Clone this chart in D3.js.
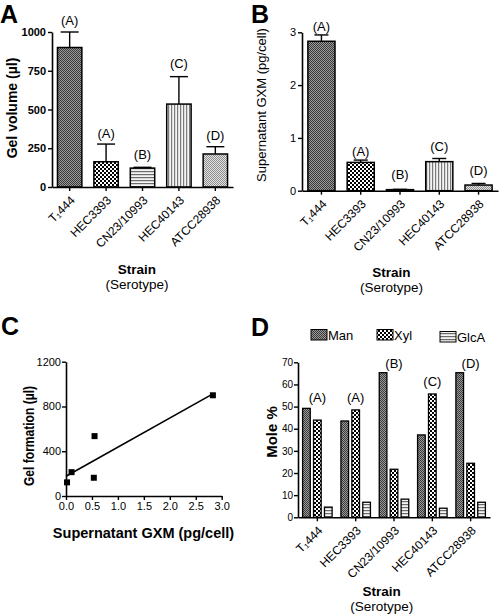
<!DOCTYPE html>
<html><head><meta charset="utf-8">
<script src="https://cdn.jsdelivr.net/npm/d3@7"></script>
<style>
body{margin:0;background:#fff}
svg{display:block}
text{font-family:"Liberation Sans",Arial,Helvetica,sans-serif;fill:#000}
</style>
</head><body>
<svg id="chart" width="500" height="614"></svg>
<script>
// ---------- data ----------
const strains = ["T₁444","HEC3393","CN23/10993","HEC40143","ATCC28938"];
const gelVolume = [900,163,122,535,213];
const gelVolumeErr = [100,114,5,177,47];
const gelLetters = ["(A)","(A)","(B)","(C)","(D)"];
const gelLetterLevel = [1048,319,181,765,303];
const gxm = [2.83,0.536,0.02,0.55,0.107];
const gxmErr = [0.12,0.044,0.006,0.06,0.03];
const gxmLetters = ["(A)","(A)","(B)","(C)","(D)"];
const gxmLetterLevel = [3.03,0.655,0.23,0.75,0.3];
const sugars = ["Man","Xyl","GlcA"];
const man = [49.2,43.5,65.3,37.2,65.3];
const xyl = [43.9,48.5,21.7,55.7,24.4];
const glca = [4.6,6.8,8.2,4.1,6.8];
const moleLetters = ["(A)","(A)","(B)","(C)","(D)"];
const moleLetterLevel = [52.1,52.1,67.5,59.4,67.5];
const ticksA = [0,250,500,750,1000];
const ticksB = [0,1,2,3];
const ticksCy = [0,400,800,1200];
const ticksCx = [0,0.5,1.0,1.5,2.0,2.5,3.0];
const ticksD = [0,10,20,30,40,50,60,70];

const svg = d3.select("#chart");
const defs = svg.append("defs");
function checker(id, a, b, s){
  const p = defs.append("pattern").attr("id",id).attr("patternUnits","userSpaceOnUse").attr("width",2*s).attr("height",2*s);
  p.append("rect").attr("width",2*s).attr("height",2*s).attr("fill",b);
  p.append("rect").attr("width",s).attr("height",s).attr("fill",a);
  p.append("rect").attr("x",s).attr("y",s).attr("width",s).attr("height",s).attr("fill",a);
}
function stripes(id, vertical, col){
  const p = defs.append("pattern").attr("id",id).attr("patternUnits","userSpaceOnUse").attr("width",3).attr("height",3);
  p.append("rect").attr("width",3).attr("height",3).attr("fill","#f4f4f4");
  if(vertical) p.append("rect").attr("width",1.2).attr("height",3).attr("fill",col);
  else p.append("rect").attr("width",3).attr("height",1.2).attr("fill",col);
}
checker("pDark","#3a3a3a","#9a9a9a",1);
checker("pCheck","#000","#fff",2);
stripes("pH",false,"#6a6a6a");
stripes("pV",true,"#7a7a7a");
checker("pLight","#8c8c8c","#e4e4e4",1);
const strainFill = ["url(#pDark)","url(#pCheck)","url(#pH)","url(#pV)","url(#pLight)"];
const sugarFill = ["url(#pDark)","url(#pCheck)","url(#pH)"];
const fmtInt = d3.format("d");

function styleAxis(g, fs, bold){
  g.select(".domain").attr("stroke","#000").attr("stroke-width",1.6);
  g.selectAll(".tick line").attr("stroke","#000").attr("stroke-width",1.4);
  g.selectAll(".tick text").attr("font-size",fs).attr("font-weight",bold?"bold":"normal")
    .attr("font-family",'"Liberation Sans",Arial,sans-serif').attr("fill","#000");
}
function rotLabels(g){
  g.selectAll(".tick text").attr("x",0).attr("y",0).attr("dy","0.35em")
    .attr("text-anchor","end").attr("transform","translate(3,11) rotate(-45)").attr("font-size",12);
}
function strainTitle(cx, y){
  svg.append("text").attr("x",cx).attr("y",y).attr("text-anchor","middle").attr("font-size",13.5).attr("font-weight","bold").text("Strain");
  svg.append("text").attr("x",cx).attr("y",y+15).attr("text-anchor","middle").attr("font-size",13.5).text("(Serotype)");
}
function panelLetter(t,x,y){
  svg.append("text").attr("x",x).attr("y",y).attr("font-size",25).attr("font-weight","bold").text(t);
}

function barPanel(o){
  const x = d3.scaleBand().domain(strains).range(o.xr).paddingInner(o.pi).paddingOuter(0.15);
  const y = d3.scaleLinear().domain(o.yd).range(o.yr);
  const bw = x.bandwidth();
  svg.append("g").selectAll("rect").data(strains).join("rect")
    .attr("x",d=>x(d)).attr("width",bw)
    .attr("y",(d,i)=>y(o.vals[i])).attr("height",(d,i)=>y(0)-y(o.vals[i]))
    .attr("fill",(d,i)=>strainFill[i]).attr("stroke","#000").attr("stroke-width",1.5);
  const eg = svg.append("g").attr("stroke","#000").attr("stroke-width",1.4);
  strains.forEach((s,i)=>{
    const cx = x(s)+bw/2, y0 = y(o.vals[i]), y1 = y(o.vals[i]+o.errs[i]);
    eg.append("line").attr("x1",cx).attr("x2",cx).attr("y1",y0).attr("y2",y1);
    eg.append("line").attr("x1",cx-o.cap/2).attr("x2",cx+o.cap/2).attr("y1",y1).attr("y2",y1);
    svg.append("text").attr("x",cx).attr("y",y(o.lvl[i])).attr("text-anchor","middle").attr("font-size",13).text(o.letters[i]);
  });
  const ya = svg.append("g").attr("transform",`translate(${o.xr[0]},0)`)
    .call(d3.axisLeft(y).tickValues(o.ticks).tickFormat(fmtInt).tickSize(4).tickSizeOuter(0).tickPadding(2));
  styleAxis(ya, 11, o.boldTicks);
  const xa = svg.append("g").attr("transform",`translate(0,${y(0)})`)
    .call(d3.axisBottom(x).tickSize(4).tickSizeOuter(0));
  styleAxis(xa, 12, false);
  rotLabels(xa);
}

// ---------- Panel A ----------
panelLetter("A",0,23);
barPanel({xr:[52,233], pi:0.33, yd:[0,1000], yr:[187,32], vals:gelVolume, errs:gelVolumeErr,
  letters:gelLetters, lvl:gelLetterLevel, ticks:ticksA, cap:18, boldTicks:true});
svg.append("text").attr("transform","translate(17,108) rotate(-90)").attr("text-anchor","middle")
  .attr("font-size",14).attr("font-weight","bold").text("Gel volume (µl)");
strainTitle(137,273.5);

// ---------- Panel B ----------
panelLetter("B",251,23);
barPanel({xr:[302,498], pi:0.31, yd:[0,3], yr:[190.7,32.3], vals:gxm, errs:gxmErr,
  letters:gxmLetters, lvl:gxmLetterLevel, ticks:ticksB, cap:14, boldTicks:false});
svg.append("text").attr("transform","translate(266,105) rotate(-90)").attr("text-anchor","middle")
  .attr("font-size",13).text("Supernatant GXM (pg/cell)");
strainTitle(391.5,276.5);

// ---------- Panel C ----------
panelLetter("C",1,335);
{
  const x = d3.scaleLinear().domain([0,3]).range([66,221.7]);
  const y = d3.scaleLinear().domain([0,1200]).range([496,361.7]);
  const pts = gxm.map((v,i)=>[v,gelVolume[i]]);
  const mx = d3.mean(pts,p=>p[0]), my = d3.mean(pts,p=>p[1]);
  const slope = d3.sum(pts,p=>(p[0]-mx)*(p[1]-my))/d3.sum(pts,p=>(p[0]-mx)**2);
  const icpt = my - slope*mx;
  const xmax = d3.max(pts,p=>p[0]);
  svg.append("line").attr("x1",x(0)).attr("y1",y(icpt)).attr("x2",x(xmax)).attr("y2",y(icpt+slope*xmax))
    .attr("stroke","#000").attr("stroke-width",1.6);
  svg.append("g").selectAll("rect").data(pts).join("rect")
    .attr("x",p=>x(p[0])-3).attr("y",p=>y(p[1])-3).attr("width",6).attr("height",6).attr("fill","#000");
  const ya = svg.append("g").attr("transform","translate(66,0)")
    .call(d3.axisLeft(y).tickValues(ticksCy).tickFormat(fmtInt).tickSize(4).tickSizeOuter(0).tickPadding(1));
  styleAxis(ya, 11, false);
  const xa = svg.append("g").attr("transform","translate(0,496)")
    .call(d3.axisBottom(x).tickValues(ticksCx).tickFormat(d3.format(".1f")).tickSize(4).tickSizeOuter(0).tickPadding(2));
  styleAxis(xa, 11, false);
  svg.append("text").attr("transform","translate(34,436) rotate(-90)").attr("text-anchor","middle")
    .attr("font-size",14).attr("font-weight","bold").attr("textLength",100).attr("lengthAdjust","spacingAndGlyphs")
    .text("Gel formation (µl)");
  svg.append("text").attr("x",143.5).attr("y",538).attr("text-anchor","middle")
    .attr("font-size",14.5).attr("font-weight","bold").text("Supernatant GXM (pg/cell)");
}

// ---------- Panel D ----------
panelLetter("D",251,336);
{
  const x0 = d3.scaleBand().domain(strains).range([298,490]).paddingInner(0.23).paddingOuter(0.12);
  const x1 = d3.scaleBand().domain(sugars).range([0,x0.bandwidth()]).paddingInner(0.3).paddingOuter(0);
  const y = d3.scaleLinear().domain([0,70]).range([517.3,362.3]);
  const series = [man,xyl,glca];
  const g = svg.append("g");
  strains.forEach((s,i)=>{
    sugars.forEach((k,j)=>{
      g.append("rect").attr("x",x0(s)+x1(k)).attr("width",x1.bandwidth())
        .attr("y",y(series[j][i])).attr("height",y(0)-y(series[j][i]))
        .attr("fill",sugarFill[j]).attr("stroke","#000").attr("stroke-width",1.3);
    });
    svg.append("text").attr("x",x0(s)+x0.bandwidth()/2).attr("y",y(moleLetterLevel[i]))
      .attr("text-anchor","middle").attr("font-size",13).text(moleLetters[i]);
  });
  const ya = svg.append("g").attr("transform","translate(298,0)")
    .call(d3.axisLeft(y).tickValues(ticksD).tickFormat(fmtInt).tickSize(4).tickSizeOuter(0).tickPadding(1));
  styleAxis(ya, 10, false);
  const xa = svg.append("g").attr("transform",`translate(0,${y(0)})`)
    .call(d3.axisBottom(x0).tickSize(4).tickSizeOuter(0));
  styleAxis(xa, 12, false);
  rotLabels(xa);
  svg.append("text").attr("transform","translate(277,432) rotate(-90)").attr("text-anchor","middle")
    .attr("font-size",15).attr("font-weight","bold").text("Mole %");
  strainTitle(381.7,595.5);
  // legend
  const legX = [311,377,440], legY = [329.5,329.5,331.5];
  sugars.forEach((k,j)=>{
    svg.append("rect").attr("x",legX[j]).attr("y",legY[j]).attr("width",16).attr("height",10.5)
      .attr("fill",sugarFill[j]).attr("stroke","#000").attr("stroke-width",1);
    svg.append("text").attr("x",legX[j]+17).attr("y",legY[j]+10.5).attr("font-size",13).text(k);
  });
}
</script>
</body></html>
